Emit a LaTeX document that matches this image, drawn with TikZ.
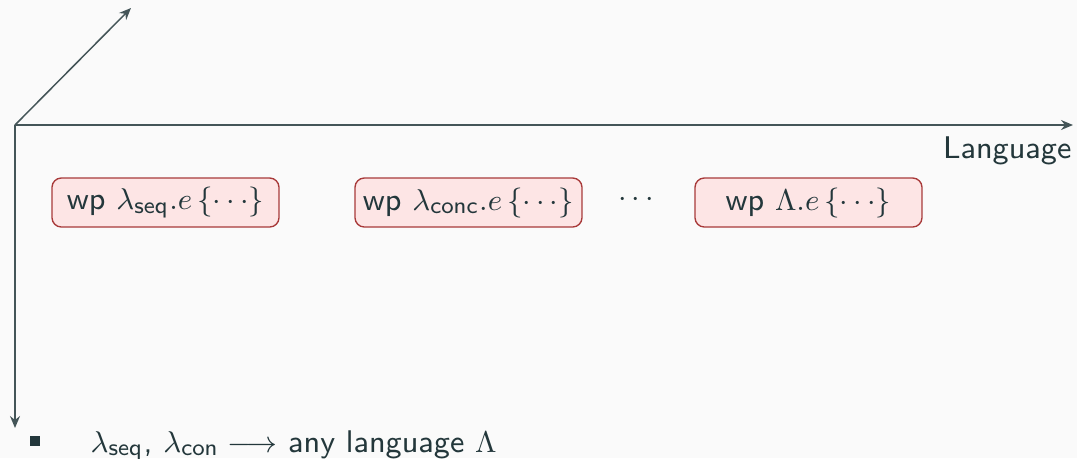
\documentclass[tikz,border=0pt]{standalone}
\usetikzlibrary{arrows.meta}
\definecolor{fgteal}{RGB}{35,55,59}
\definecolor{pagebg}{RGB}{250,250,250}
\definecolor{boxfill}{RGB}{253,229,229}
\definecolor{boxline}{RGB}{168,58,58}
\newcommand{\slidefont}{\sffamily\fontsize{9.4}{11.3}\selectfont}
\tikzset{
  axis/.style={draw=fgteal!85, line width=0.45pt,
    -{Stealth[length=3.6pt,width=3pt,inset=1.2pt]}},
  wpbox/.style={draw=boxline, fill=boxfill, line width=0.4pt,
    rounded corners=2.8pt, minimum width=68.1pt, minimum height=14.7pt,
    inner sep=0pt, text=fgteal, font=\slidefont},
  txt/.style={text=fgteal, font=\slidefont, inner sep=0pt},
}
\begin{document}
\begin{tikzpicture}[x=0.3pt, y=-0.3pt]
  % page
  \fill[pagebg] (0,0) rectangle (1077,458);
  \useasboundingbox (0,0) rectangle (1077,458);

  % axes
  \coordinate (o) at (15,125);
  \coordinate (xend) at (1073,125);
  \coordinate (yend) at (15,428);
  \coordinate (zend) at (131,8);
  \draw[axis] (o) -- (xend);
  \draw[axis] (o) -- (yend);
  \draw[axis] (o) -- (zend);
  \node[txt, anchor=base east] (lang) at (1072,158) {Language};

  % weakest-precondition boxes
  \node[wpbox] (seq)  at (165.5,202.5) {wp $\lambda_{\mathsf{seq}}.e\,\{\cdots\}$};
  \node[wpbox] (conc) at (468.5,202.5) {wp $\lambda_{\mathsf{conc}}.e\,\{\cdots\}$};
  \node[txt]   (dots) at (636,200)     {$\cdots$};
  \node[wpbox] (any)  at (808.5,202.5) {wp $\Lambda.e\,\{\cdots\}$};

  % bullet line
  \node[fill=fgteal, minimum size=3pt, inner sep=0pt] (bul) at (35,441) {};
  \node[txt, anchor=base west] (item) at (90,452)
    {$\lambda_{\mathsf{seq}}$, $\lambda_{\mathsf{con}}\longrightarrow$ any language $\Lambda$};
\end{tikzpicture}
\end{document}
